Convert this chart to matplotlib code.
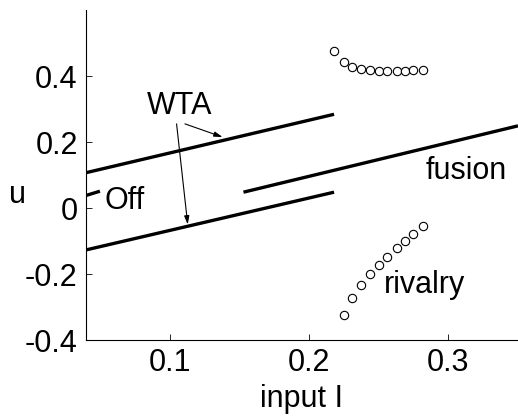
import matplotlib
matplotlib.use("Agg")
import matplotlib.pyplot as plt

plt.rcParams['font.family'] = ['Liberation Sans', 'DejaVu Sans']

# branches of the bifurcation diagram (input I vs u)
wta_hi_I = [0.04, 0.218]
wta_hi_u = [0.107, 0.284]
wta_lo_I = [0.04, 0.218]
wta_lo_u = [-0.127, 0.048]
off_I = [0.04, 0.05]
off_u = [0.038, 0.051]
fusion_I = [0.153, 0.35]
fusion_u = [0.048, 0.249]

# rivalry oscillation max / min
riv_hi_I = [0.218, 0.225, 0.231, 0.237, 0.244, 0.250, 0.256, 0.263, 0.269, 0.275, 0.282]
riv_hi_u = [0.477, 0.441, 0.426, 0.421, 0.418, 0.416, 0.416, 0.416, 0.416, 0.418, 0.419]
riv_lo_I = [0.225, 0.231, 0.237, 0.244, 0.250, 0.256, 0.263, 0.269, 0.275, 0.282]
riv_lo_u = [-0.325, -0.272, -0.233, -0.200, -0.172, -0.147, -0.122, -0.101, -0.079, -0.056]

xticks = [0.1, 0.2, 0.3]
yticks = [-0.4, -0.2, 0, 0.2, 0.4]
yticklabels = ['-0.4', '-0.2', '0', '0.2', '0.4']

fig = plt.figure(figsize=(5.18, 4.19), dpi=100)
ax = fig.add_axes([0.166, 0.1885, 0.834, 0.7876])

lw = 2.4
ax.plot(wta_hi_I, wta_hi_u, 'k-', lw=lw, solid_capstyle='butt')
ax.plot(wta_lo_I, wta_lo_u, 'k-', lw=lw, solid_capstyle='butt')
ax.plot(off_I, off_u, 'k-', lw=lw, solid_capstyle='butt')
ax.plot(fusion_I, fusion_u, 'k-', lw=lw, solid_capstyle='butt')
ax.plot(riv_hi_I, riv_hi_u, 'o', mfc='white', mec='k', mew=0.8, ms=6)
ax.plot(riv_lo_I, riv_lo_u, 'o', mfc='white', mec='k', mew=0.8, ms=6)

fs = 22
ax.text(0.107, 0.31, 'WTA', fontsize=fs, ha='center', va='center')
ax.text(0.0535, 0.02, 'Off', fontsize=fs, ha='left', va='center')
ax.text(0.313, 0.112, 'fusion', fontsize=fs, ha='center', va='center')
ax.text(0.283, -0.232, 'rivalry', fontsize=fs, ha='center', va='center')

arr = dict(arrowstyle='-|>,head_length=0.5,head_width=0.15', color='k', lw=0.8, shrinkA=0, shrinkB=0)
ax.annotate('', xy=(0.138, 0.215), xytext=(0.111, 0.255), arrowprops=arr)
ax.annotate('', xy=(0.113, -0.05), xytext=(0.105, 0.255), arrowprops=arr)

ax.set_xlim(0.04, 0.35)
ax.set_ylim(-0.4, 0.6)
ax.set_xticks(xticks)
ax.set_yticks(yticks)
ax.set_yticklabels(yticklabels)
ax.tick_params(direction='in', length=4, width=0.6, labelsize=fs, pad=6)
for s in ['top', 'right']:
    ax.spines[s].set_visible(False)
for s in ['left', 'bottom']:
    ax.spines[s].set_linewidth(0.8)

ax.set_xlabel('input I', fontsize=fs, labelpad=4)
ax.set_ylabel('u', fontsize=fs, rotation=0, va='center', ha='center')
ax.yaxis.set_label_coords(-0.159, 0.44)

fig.savefig('out.png', dpi=100)
